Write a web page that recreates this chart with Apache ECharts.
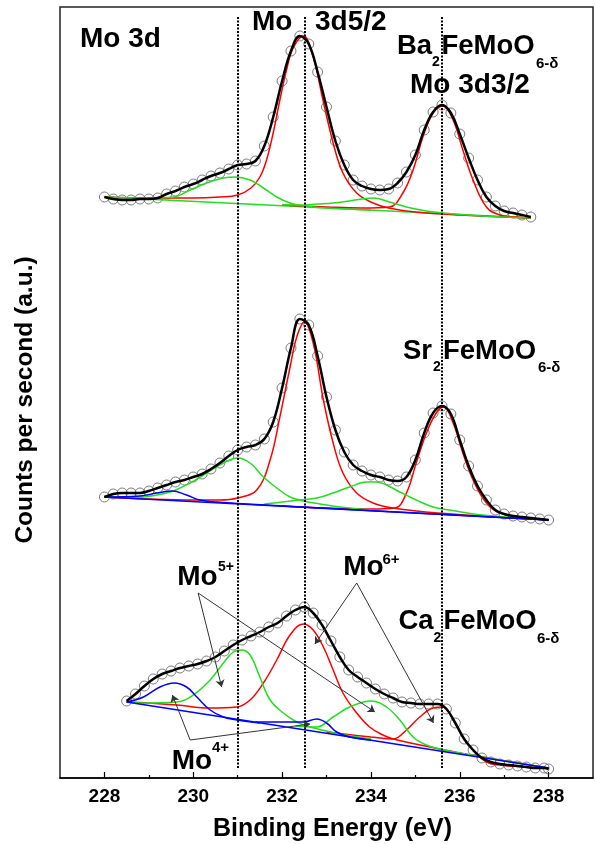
<!DOCTYPE html>
<html lang="en">
<head>
  <meta charset="UTF-8">
  <title>Mo 3d XPS</title>
  <style>
    body, html { margin: 0; padding: 0; background: #fff; }
    #main { width: 595px; height: 844px; }
  </style>
</head>
<body>
  <div id="main"></div>
<script src="https://cdn.jsdelivr.net/npm/echarts@6/dist/echarts.min.js"></script>
<script>
  // binding energy grids (eV) and measured counts (a.u.)
  var baE = [228.0,228.2,228.4,228.6,228.8,229.0,229.2,229.4,229.6,229.8,230.0,230.2,230.4,230.6,230.8,231.0,231.2,231.4,231.6,231.8,232.0,232.2,232.4,232.6,232.8,233.0,233.2,233.4,233.6,233.8,234.0,234.2,234.4,234.6,234.8,235.0,235.2,235.4,235.6,235.8,236.0,236.2,236.4,236.6,236.8,237.0,237.2,237.4,237.6];
  var baY = [581,579,578,578,579,579,580,584,587,591,594,598,602,605,609,613,614,617,632,661,697,727,742,734,706,671,637,613,598,592,589,588,589,595,606,623,648,666,673,665,644,620,598,581,572,567,565,563,561];

  var srE = [228.0,228.2,228.4,228.6,228.8,229.0,229.2,229.4,229.6,229.8,230.0,230.2,230.4,230.6,230.8,231.0,231.2,231.4,231.6,231.8,232.0,232.2,232.4,232.6,232.8,233.0,233.2,233.4,233.6,233.8,234.0,234.2,234.4,234.6,234.8,235.0,235.2,235.4,235.6,235.8,236.0,236.2,236.4,236.6,236.8,237.0,237.2,237.4,237.6,237.8,238.0];
  var srY = [281,284,285,285,285,287,290,293,296,298,301,304,309,315,322,328,331,333,339,356,390,430,459,453,422,381,348,326,313,307,303,301,298,297,301,318,345,365,372,364,338,312,292,278,268,264,262,261,260,259,258];

  var caE = [228.5,228.7,228.9,229.1,229.3,229.5,229.7,229.9,230.1,230.3,230.5,230.7,230.9,231.1,231.3,231.5,231.7,231.9,232.1,232.3,232.5,232.7,232.9,233.1,233.3,233.5,233.7,233.9,234.1,234.3,234.5,234.7,234.9,235.1,235.3,235.5,235.7,235.9,236.1,236.3,236.5,236.7,236.9,237.1,237.3,237.5,237.7,237.9,238.0];
  var caY = [77,84,92,99,104,107,110,112,114,117,121,127,133,138,142,146,151,155,162,168,171,165,153,137,121,108,101,95,89,84,80,76,75,74,74,74,69,55,39,28,20,16,14,13,12,11,10,10,9];

  // fitted components [eV, counts]
  var baBase = [[228.0,581],[237.6,560]];
  var baRed1 = [[228.0,581],[229.0,580],[230.0,580],[230.6,581],[231.0,583],[231.3,590],[231.5,601],[231.65,618],[231.8,645],[231.95,678],[232.1,708],[232.25,730],[232.48,742],[232.7,721],[232.92,678],[233.15,635],[233.37,605],[233.68,585],[234.05,575],[234.4,570],[235.0,566],[236.0,563],[237.6,560]];
  var baRed2 = [[232.0,573],[233.0,571],[233.8,570],[234.42,571],[234.72,585],[234.95,608],[235.17,641],[235.4,665],[235.62,672],[235.85,658],[236.07,628],[236.3,598],[236.6,571],[236.9,563],[237.27,561],[237.6,560]];
  var baGreen1 = [[228.0,581],[229.0,580],[229.55,581],[229.93,588],[230.3,595],[230.68,600],[230.94,601],[231.28,598],[231.58,590],[231.88,581],[232.18,575],[232.48,572],[233.0,570],[234.0,568]];
  var baGreen2 = [[232.0,573],[232.4,573],[232.8,574],[233.15,575],[233.52,577],[234.05,580],[234.42,576],[234.8,571],[235.25,567],[235.62,565],[236.5,562],[237.6,560]];

  var srBase = [[228.0,281],[238.0,258]];
  var srRed1 = [[228.0,281],[229.0,279],[230.0,278],[230.6,278],[231.0,280],[231.43,288],[231.73,318],[231.95,361],[232.18,411],[232.33,441],[232.5,456],[232.7,435],[232.93,378],[233.15,335],[233.37,305],[233.68,285],[234.05,275],[234.5,270],[235.5,265],[238.0,258]];
  var srRed2 = [[232.0,272],[233.0,270],[234.0,269],[234.54,270],[234.8,285],[235.02,315],[235.25,345],[235.47,365],[235.64,371],[235.85,355],[236.07,325],[236.3,298],[236.6,275],[236.9,265],[237.4,261],[238.0,258]];
  var srGreen1 = [[228.0,281],[228.8,281],[229.18,283],[229.55,287],[229.93,295],[230.3,305],[230.68,315],[231.0,320],[231.28,315],[231.58,301],[231.88,290],[232.18,281],[232.48,277],[232.85,274],[233.3,271],[234.0,268]];
  var srGreen2 = [[231.6,274],[232.0,276],[232.4,278],[232.78,280],[233.15,285],[233.52,291],[233.9,296],[234.12,296],[234.35,293],[234.65,286],[235.02,278],[235.4,271],[235.77,268],[236.5,263],[238.0,258]];
  var srBlue1 = [[228.0,281],[228.8,282],[229.18,285],[229.52,287],[229.85,283],[230.15,278],[230.53,276],[231.2,274],[238.0,258]];

  var caBase = [[228.5,76],[238.0,10]];
  var caRed1 = [[228.5,76],[229.0,75],[229.63,73],[230.38,70],[230.98,71],[231.28,78],[231.58,95],[231.88,118],[232.18,143],[232.48,154],[232.7,148],[232.93,131],[233.15,108],[233.37,85],[233.68,65],[233.97,51],[234.27,43],[234.5,39],[235.0,34],[236.0,25],[238.0,10]];
  var caRed2 = [[233.0,46],[234.0,41],[234.5,39],[234.8,48],[235.1,61],[235.4,70],[235.62,71],[235.85,58],[236.07,41],[236.3,28],[236.6,16],[236.9,13],[237.5,11],[238.0,10]];
  var caGreen1 = [[228.5,76],[228.88,75],[229.63,76],[230.0,83],[230.38,98],[230.68,115],[230.9,126],[231.09,128],[231.28,123],[231.5,101],[231.73,78],[232.03,65],[232.33,56],[232.63,51],[233.2,45],[234.0,39]];
  var caGreen2 = [[232.3,52],[232.78,51],[233.15,61],[233.52,71],[234.01,77],[234.35,71],[234.65,58],[234.95,41],[235.25,33],[235.55,29],[236.5,21],[238.0,10]];
  var caBlue1 = [[228.5,76],[228.88,81],[229.25,91],[229.57,95],[229.85,91],[230.08,81],[230.38,68],[230.68,61],[230.98,58],[231.5,55]];
  var caBlue2 = [[231.4,56],[231.8,56],[232.2,56],[232.48,56],[232.78,59],[233.0,55],[233.23,46],[233.52,41],[234.0,38]];

  // peak positions (dotted guides) and tick values
  var guideE = [231.0, 232.5, 235.6];
  var majorTicks = [228, 230, 232, 234, 236, 238];
  var minorTicks = [229, 231, 233, 235, 237];

  // annotation arrows: [from, to] in [eV, counts]
  var arrows = [
    [[230.11,185],[230.64,91]], [[230.11,185],[234.09,66]],
    [[229.93,38],[229.53,83]], [[229.93,38],[232.63,54]],
    [[233.68,195],[232.74,134]], [[233.68,195],[235.41,55]]
  ];

  var FONT = '"Liberation Sans", Arial, sans-serif';
  var RED = '#ff0000', GREEN = '#22dd22', BLUE = '#0000ff';

  function zip(e, y) {
    return e.map(function (x, i) { return [x, y[i]]; });
  }
  function fit(data, color, width, z) {
    return {
      type: 'line', data: data, smooth: 0.4, showSymbol: false, silent: true,
      lineStyle: { color: color, width: width }, z: z
    };
  }
  function dots(e, y) {
    return {
      type: 'scatter', data: zip(e, y), symbol: 'circle', symbolSize: 10, silent: true,
      itemStyle: { color: 'rgba(0,0,0,0)', borderColor: '#5e5e5e', borderWidth: 1 }, z: 1
    };
  }
  function txt(t, x, y, size, opt) {
    opt = opt || {};
    return {
      type: 'text', x: x, y: y, rotation: opt.rot || 0, silent: true,
      style: {
        text: t, fontSize: size, fontWeight: 'bold', fontFamily: FONT, fill: '#000',
        align: opt.align || 'left', verticalAlign: 'middle'
      }
    };
  }

  var myChart = echarts.init(document.getElementById('main'));

  var series = [
    dots(baE, baY), dots(srE, srY), dots(caE, caY),
    fit(baBase, GREEN, 1.5, 2), fit(baRed1, RED, 1.5, 2), fit(baRed2, RED, 1.5, 2),
    fit(baGreen1, GREEN, 1.5, 2), fit(baGreen2, GREEN, 1.5, 2),
    fit(srRed1, RED, 1.5, 2), fit(srRed2, RED, 1.5, 2),
    fit(srGreen1, GREEN, 1.5, 2), fit(srGreen2, GREEN, 1.5, 2),
    fit(srBlue1, BLUE, 1.5, 2), fit(srBase, BLUE, 1.5, 2),
    fit(caRed1, RED, 1.5, 2), fit(caRed2, RED, 1.5, 2),
    fit(caGreen1, GREEN, 1.5, 2), fit(caGreen2, GREEN, 1.5, 2),
    fit(caBlue1, BLUE, 1.5, 2), fit(caBlue2, BLUE, 1.5, 2), fit(caBase, BLUE, 1.5, 2)
  ];

  var baFit = fit(zip(baE, baY), '#000', 2.5, 3);
  baFit.markLine = {
    silent: true, symbol: ['none', 'none'], animation: false,
    label: { show: false },
    lineStyle: { color: '#000', type: [2, 1.5], width: 2 },
    data: guideE.map(function (e) { return [{ coord: [e, 10] }, { coord: [e, 762] }]; })
  };
  var srFit = fit(zip(srE, srY), '#000', 2.5, 3);
  var caFit = fit(zip(caE, caY), '#000', 2.5, 3);
  caFit.markLine = {
    silent: true, symbol: ['none', 'arrow'], symbolSize: 7, animation: false,
    label: { show: false },
    lineStyle: { color: '#333', type: 'solid', width: 1 },
    data: arrows.map(function (a) { return [{ coord: a[0] }, { coord: a[1] }]; })
  };
  series.push(baFit, srFit, caFit);

  var option = {
    animation: false,
    grid: { left: 60, right: 2, top: 7, bottom: 66, show: true, borderColor: '#222', borderWidth: 1.5 },
    xAxis: [{
      type: 'value', min: 227, max: 239, interval: 1, position: 'bottom',
      axisLine: { show: true, lineStyle: { color: '#000', width: 1.5 } },
      axisTick: { show: true, inside: true, length: 6, customValues: majorTicks, lineStyle: { color: '#000', width: 1.2 } },
      axisLabel: {
        customValues: majorTicks, margin: 9, color: '#000',
        fontSize: 19, fontWeight: 'bold', fontFamily: FONT
      },
      splitLine: { show: false }
    }, {
      type: 'value', min: 227, max: 239, interval: 1, position: 'bottom',
      axisLine: { show: false },
      axisTick: { show: true, inside: true, length: 3, customValues: minorTicks, lineStyle: { color: '#000', width: 1.2 } },
      axisLabel: { show: false },
      splitLine: { show: false }
    }],
    yAxis: {
      type: 'value', min: 0, max: 771, show: false, splitLine: { show: false }
    },
    graphic: [
      txt('Mo 3d', 80, 39, 28),
      txt('Mo', 252, 22.5, 28), txt('3d5/2', 315, 22.5, 28),
      txt('Ba', 397, 46, 27.5), txt('2', 432, 62.5, 14), txt('FeMoO', 441.5, 46, 27.5), txt('6-δ', 536, 64, 15),
      txt('Mo 3d3/2', 410, 85, 28),
      txt('Sr', 403, 351, 27.5), txt('2', 433, 366.7, 14), txt('FeMoO', 443, 351, 27.5), txt('6-δ', 538, 367.5, 15),
      txt('Ca', 398.5, 621.7, 27.5), txt('2', 433.5, 638.3, 14), txt('FeMoO', 443.5, 621.7, 27.5), txt('6-δ', 537, 639, 15),
      txt('Mo', 177.3, 577.3, 28), txt('5+', 218, 566.7, 14),
      txt('Mo', 343.3, 567, 28), txt('6+', 382.5, 560, 15),
      txt('Mo', 171.7, 761, 28), txt('4+', 212, 747.5, 15),
      txt('Binding Energy (eV)', 332.5, 829, 25, { align: 'center' }),
      txt('Counts per second (a.u.)', 25, 400, 24.5, { align: 'center', rot: Math.PI / 2 })
    ],
    series: series
  };

  myChart.setOption(option);
</script>
</body>
</html>
